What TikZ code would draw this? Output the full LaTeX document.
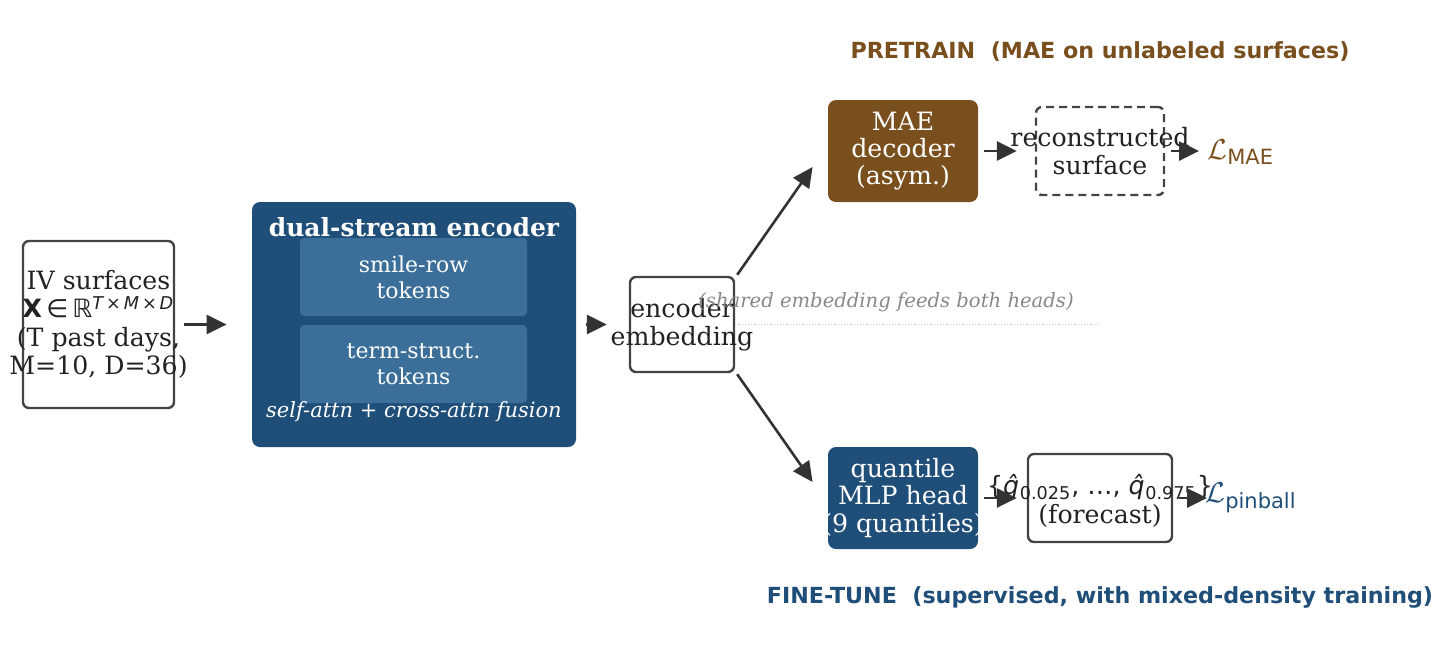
\documentclass[tikz,border=0pt]{standalone}
\usepackage{amsmath}
\usepackage{fontspec}
\setmainfont{DejaVu Serif}
\setsansfont{DejaVu Sans}
\usetikzlibrary{arrows.meta,positioning,calc}
\definecolor{EB}{HTML}{1F4E79}
\definecolor{TB}{HTML}{3B6F99}
\definecolor{BR}{HTML}{7A4F1E}
\definecolor{DK}{HTML}{333333}
\definecolor{ED}{HTML}{444444}
\definecolor{TX}{HTML}{222222}
\definecolor{NT}{HTML}{888888}

\begin{document}
\begin{tikzpicture}[x=0.5pt,y=-0.5pt,
    plate/.style={draw=ED, line width=1.2pt, rounded corners=3pt, fill=white},
    solid box/.style={draw=none, rounded corners=4pt},
    lbl/.style={inner sep=0pt, align=center, text=TX,
      font=\fontsize{12.6}{14.2}\selectfont},
    arr/.style={draw=DK, line width=1.3pt,
      -{Triangle[length=10pt,width=9.5pt]}}]
  \useasboundingbox (0,0) rectangle (1443,666);

  % input
  \node[plate, minimum width=75.5pt, minimum height=83.5pt] (inp) at (98.5,324.5) {};
  \node[lbl] at (inp) {IV surfaces\\
    {\sffamily\bfseries X}{\sffamily\,∈\,ℝ}\textsuperscript{\sffamily\itshape T\,×\,M\,×\,D}\\
    (T past days,\\M=10, D=36)};

  % encoder with its two token streams
  \node[solid box, fill=EB, minimum width=162pt, minimum height=122.5pt] (enc) at (414,324.5) {};
  \node[solid box, fill=TB, rounded corners=2pt, minimum width=113.5pt, minimum height=39pt] (srow) at (413.5,277) {};
  \node[lbl, text=white, font=\fontsize{11}{13.2}\selectfont] at (srow) {smile-row\\tokens};
  \node[solid box, fill=TB, rounded corners=2pt, minimum width=113.5pt, minimum height=39pt] (tstr) at (413.5,364) {};
  \node[lbl, text=white, font=\fontsize{11}{13.2}\selectfont] at (tstr) {term-struct.\\tokens};
  \node[lbl, text=white, font=\fontsize{12.5}{14}\selectfont\bfseries] (enctitle) at (414,227) {dual-stream encoder};
  \node[lbl, text=white, font=\fontsize{10.5}{13}\selectfont\itshape] (fusion) at (414,412) {self-attn + cross-attn fusion};

  % shared embedding
  \node[plate, minimum width=52pt, minimum height=47.5pt] (emb) at (682,324.5) {};
  \node[lbl] at (emb) {encoder\\embedding};

  % pretrain branch
  \node[solid box, fill=BR, minimum width=75pt, minimum height=51pt] (mae) at (903,151) {};
  \node[lbl, text=white, font=\fontsize{12.6}{13.6}\selectfont] at (mae) {MAE\\decoder\\(asym.)};
  \node[plate, dash pattern=on 4pt off 2.5pt, minimum width=64pt, minimum height=44pt] (rec) at (1100,151) {};
  \node[lbl] at (rec) {reconstructed\\surface};
  \node[lbl, anchor=west, text=BR, font=\fontsize{15}{17}\selectfont] (lmae) at (1207,152) {$\mathcal{L}_{\textsf{MAE}}$};

  % fine-tune branch
  \node[solid box, fill=EB, minimum width=75pt, minimum height=51pt] (qnt) at (903,498) {};
  \node[lbl, text=white, font=\fontsize{12.6}{13.6}\selectfont] at (qnt) {quantile\\MLP head\\(9 quantiles)};
  \node[plate, minimum width=72pt, minimum height=44pt] (fct) at (1100,498) {};
  \node[lbl] at (1100,501) {{\sffamily\{\textit{q̂}\textsubscript{0.025}, …, \textit{q̂}\textsubscript{0.975}\}}\\(forecast)};
  \node[lbl, anchor=west, text=EB, font=\fontsize{15}{17}\selectfont] (lpin) at (1205,498) {$\mathcal{L}_{\textsf{pinball}}$};

  \draw[arr, shorten <=4.5pt, shorten >=12.5pt] (inp) -- (enc);
  \draw[arr, shorten <=5pt, shorten >=11pt] (enc) -- (emb);
  \draw[arr] ($(emb.north east)+(2,-1)$) -- ($(mae.west)+(-15,16)$);
  \draw[arr] ($(emb.south east)+(2,1)$) -- ($(qnt.west)+(-15,-16)$);
  \draw[arr, shorten <=3pt, shorten >=9pt] (mae) -- (rec);
  \draw[arr, shorten <=3pt, shorten >=4pt] (rec.east) -- (rec.east -| lmae.west);
  \draw[arr, shorten <=3pt, shorten >=5pt] (qnt) -- (fct);
  \draw[arr, shorten <=3pt, shorten >=-1pt] (fct.east) -- (fct.east -| lpin.west);

  \draw[NT!50, line width=0.6pt, dash pattern=on 0.6pt off 1pt] (emb.east) -- (emb.east -| rec);
  \node[lbl, text=NT, font=\fontsize{9.8}{12}\selectfont\itshape] (note) at (886,302) {(shared embedding feeds both heads)};

  \node[lbl, text=BR, font=\sffamily\bfseries\fontsize{11.1}{13}\selectfont] (pretrain) at (1100,52) {PRETRAIN\ \ (MAE on unlabeled surfaces)};
  \node[lbl, text=EB, font=\sffamily\bfseries\fontsize{11.1}{13}\selectfont] (finetune) at (1100,597) {FINE-TUNE\ \ (supervised, with mixed-density training)};
\end{tikzpicture}
\end{document}
